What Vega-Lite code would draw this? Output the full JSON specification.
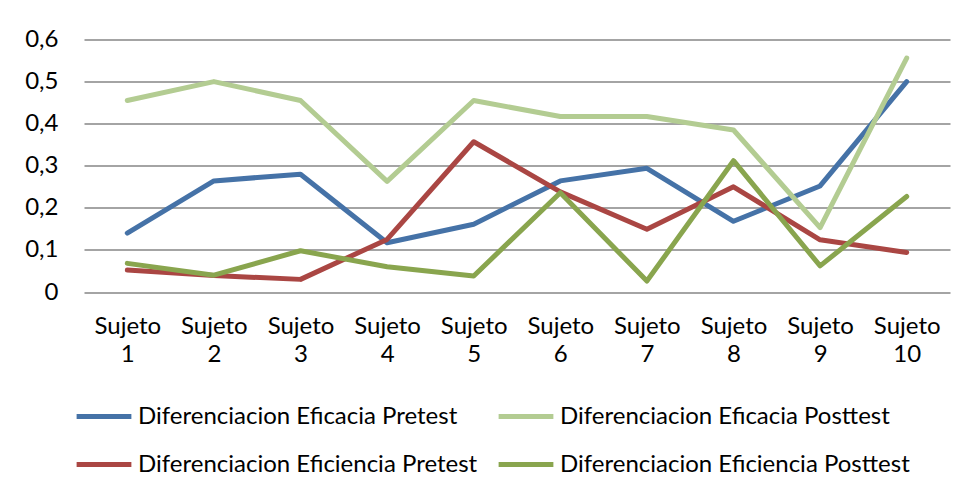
{
  "$schema": "https://vega.github.io/schema/vega-lite/v6.json",
  "width": 866,
  "height": 252.5,
  "autosize": {"type": "none"},
  "padding": {"left": 84, "top": 39.5, "right": 16, "bottom": 205},
  "background": "white",
  "config": {
    "font": "Lato",
    "view": {"stroke": null}
  },
  "data": {
    "values": [
      {"sujeto": "Sujeto 1", "serie": "Diferenciacion Eficacia Pretest", "valor": 0.14},
      {"sujeto": "Sujeto 2", "serie": "Diferenciacion Eficacia Pretest", "valor": 0.264},
      {"sujeto": "Sujeto 3", "serie": "Diferenciacion Eficacia Pretest", "valor": 0.28},
      {"sujeto": "Sujeto 4", "serie": "Diferenciacion Eficacia Pretest", "valor": 0.117},
      {"sujeto": "Sujeto 5", "serie": "Diferenciacion Eficacia Pretest", "valor": 0.161},
      {"sujeto": "Sujeto 6", "serie": "Diferenciacion Eficacia Pretest", "valor": 0.264},
      {"sujeto": "Sujeto 7", "serie": "Diferenciacion Eficacia Pretest", "valor": 0.294},
      {"sujeto": "Sujeto 8", "serie": "Diferenciacion Eficacia Pretest", "valor": 0.168},
      {"sujeto": "Sujeto 9", "serie": "Diferenciacion Eficacia Pretest", "valor": 0.252},
      {"sujeto": "Sujeto 10", "serie": "Diferenciacion Eficacia Pretest", "valor": 0.5},
      {"sujeto": "Sujeto 1", "serie": "Diferenciacion Eficacia Posttest", "valor": 0.455},
      {"sujeto": "Sujeto 2", "serie": "Diferenciacion Eficacia Posttest", "valor": 0.5},
      {"sujeto": "Sujeto 3", "serie": "Diferenciacion Eficacia Posttest", "valor": 0.455},
      {"sujeto": "Sujeto 4", "serie": "Diferenciacion Eficacia Posttest", "valor": 0.263},
      {"sujeto": "Sujeto 5", "serie": "Diferenciacion Eficacia Posttest", "valor": 0.455},
      {"sujeto": "Sujeto 6", "serie": "Diferenciacion Eficacia Posttest", "valor": 0.417},
      {"sujeto": "Sujeto 7", "serie": "Diferenciacion Eficacia Posttest", "valor": 0.417},
      {"sujeto": "Sujeto 8", "serie": "Diferenciacion Eficacia Posttest", "valor": 0.385},
      {"sujeto": "Sujeto 9", "serie": "Diferenciacion Eficacia Posttest", "valor": 0.153},
      {"sujeto": "Sujeto 10", "serie": "Diferenciacion Eficacia Posttest", "valor": 0.556},
      {"sujeto": "Sujeto 1", "serie": "Diferenciacion Eficiencia Pretest", "valor": 0.052},
      {"sujeto": "Sujeto 2", "serie": "Diferenciacion Eficiencia Pretest", "valor": 0.039},
      {"sujeto": "Sujeto 3", "serie": "Diferenciacion Eficiencia Pretest", "valor": 0.03},
      {"sujeto": "Sujeto 4", "serie": "Diferenciacion Eficiencia Pretest", "valor": 0.125},
      {"sujeto": "Sujeto 5", "serie": "Diferenciacion Eficiencia Pretest", "valor": 0.357},
      {"sujeto": "Sujeto 6", "serie": "Diferenciacion Eficiencia Pretest", "valor": 0.238},
      {"sujeto": "Sujeto 7", "serie": "Diferenciacion Eficiencia Pretest", "valor": 0.149},
      {"sujeto": "Sujeto 8", "serie": "Diferenciacion Eficiencia Pretest", "valor": 0.25},
      {"sujeto": "Sujeto 9", "serie": "Diferenciacion Eficiencia Pretest", "valor": 0.124},
      {"sujeto": "Sujeto 10", "serie": "Diferenciacion Eficiencia Pretest", "valor": 0.094},
      {"sujeto": "Sujeto 1", "serie": "Diferenciacion Eficiencia Posttest", "valor": 0.068},
      {"sujeto": "Sujeto 2", "serie": "Diferenciacion Eficiencia Posttest", "valor": 0.04},
      {"sujeto": "Sujeto 3", "serie": "Diferenciacion Eficiencia Posttest", "valor": 0.098},
      {"sujeto": "Sujeto 4", "serie": "Diferenciacion Eficiencia Posttest", "valor": 0.06},
      {"sujeto": "Sujeto 5", "serie": "Diferenciacion Eficiencia Posttest", "valor": 0.038},
      {"sujeto": "Sujeto 6", "serie": "Diferenciacion Eficiencia Posttest", "valor": 0.236},
      {"sujeto": "Sujeto 7", "serie": "Diferenciacion Eficiencia Posttest", "valor": 0.026},
      {"sujeto": "Sujeto 8", "serie": "Diferenciacion Eficiencia Posttest", "valor": 0.312},
      {"sujeto": "Sujeto 9", "serie": "Diferenciacion Eficiencia Posttest", "valor": 0.062},
      {"sujeto": "Sujeto 10", "serie": "Diferenciacion Eficiencia Posttest", "valor": 0.227}
    ]
  },
  "mark": {"type": "line", "strokeWidth": 5, "strokeCap": "round", "strokeJoin": "round"},
  "encoding": {
    "x": {
      "field": "sujeto",
      "type": "ordinal",
      "sort": null,
      "scale": {"type": "point", "padding": 0.5},
      "axis": {
        "title": null,
        "labelAngle": 0,
        "domain": false,
        "ticks": false,
        "labelPadding": 22,
        "labelFontSize": 24,
        "labelColor": "#000000",
        "labelLineHeight": 28,
        "labelExpr": "split(datum.label, ' ')"
      }
    },
    "y": {
      "field": "valor",
      "type": "quantitative",
      "scale": {"domain": [0, 0.6], "nice": false},
      "axis": {
        "title": null,
        "values": [0, 0.1, 0.2, 0.3, 0.4, 0.5, 0.6],
        "domain": false,
        "ticks": false,
        "labelPadding": 26,
        "labelFontSize": 24,
        "labelColor": "#000000",
        "gridColor": "#868686",
        "gridWidth": 1.5,
        "gridOpacity": 1,
        "labelExpr": "datum.value == 0 ? '0' : replace(format(datum.value, '.1f'), '.', ',')"
      }
    },
    "color": {
      "field": "serie",
      "type": "nominal",
      "scale": {
        "domain": ["Diferenciacion Eficacia Pretest", "Diferenciacion Eficiencia Pretest", "Diferenciacion Eficacia Posttest", "Diferenciacion Eficiencia Posttest"],
        "range": ["#4572A7", "#AA4643", "#B3CC92", "#89A54E"]
      },
      "legend": {
        "title": null,
        "orient": "none",
        "legendX": -10,
        "legendY": 347,
        "columns": 2,
        "symbolType": "stroke",
        "symbolSize": 3000,
        "symbolStrokeWidth": 5,
        "labelFontSize": 24,
        "labelColor": "#000000",
        "labelOffset": 4,
        "labelLimit": 500,
        "columnPadding": 10,
        "rowPadding": 6
      }
    }
  }
}
